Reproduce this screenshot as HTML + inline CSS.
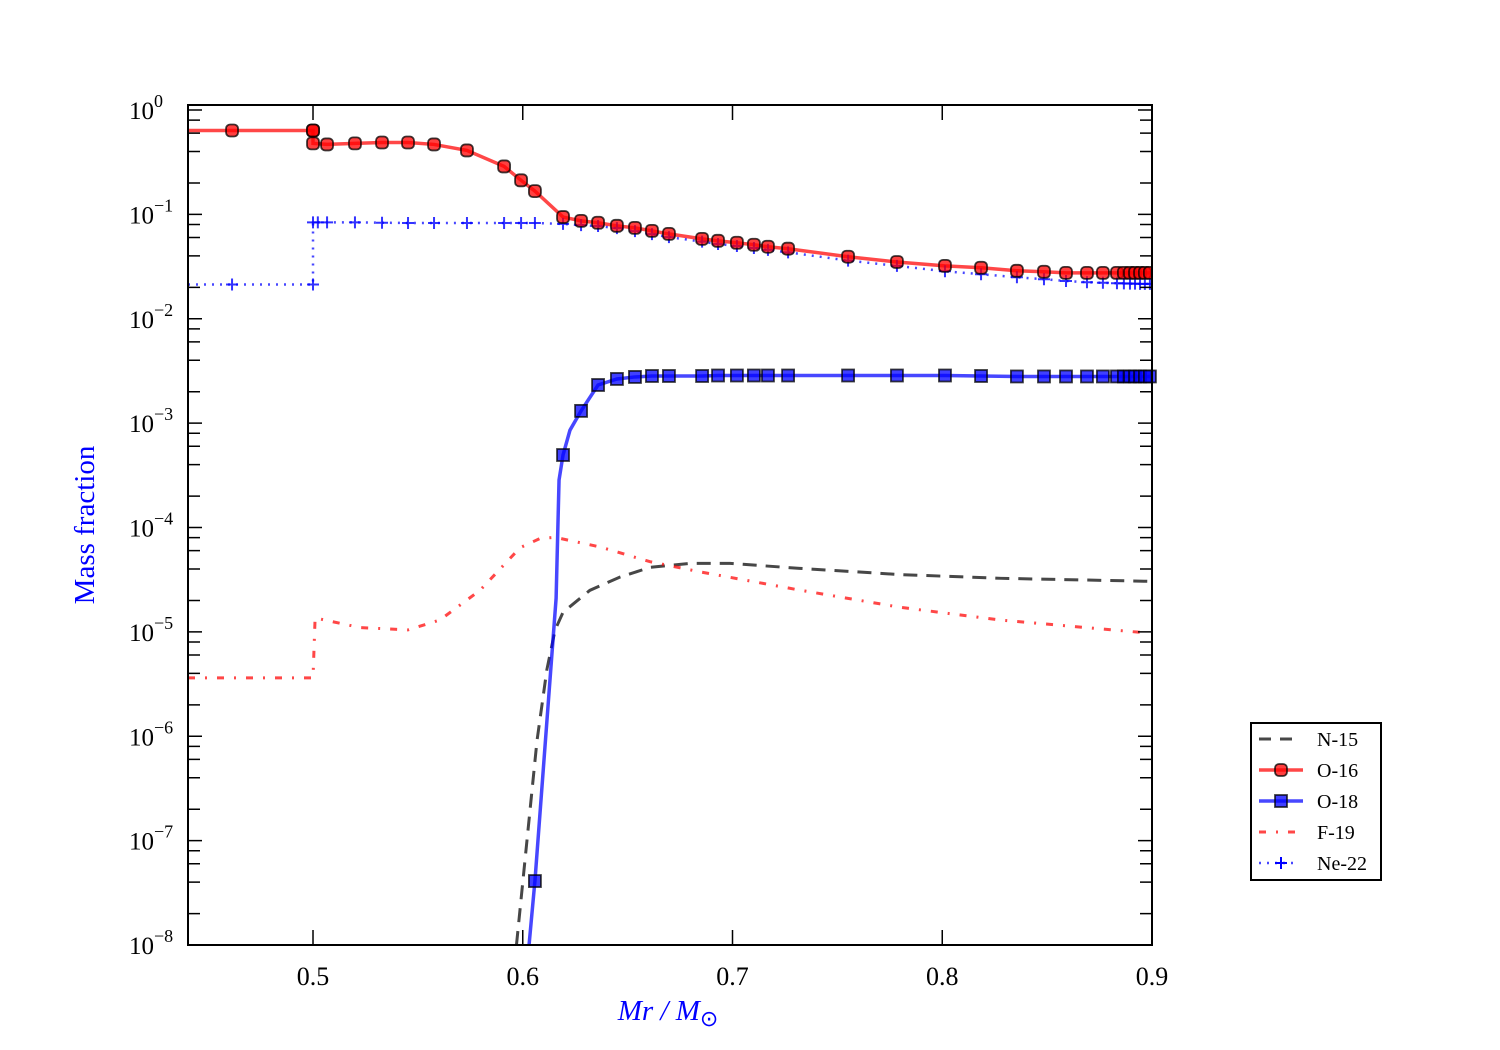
<!DOCTYPE html>
<html><head><meta charset="utf-8"><style>
html,body{margin:0;padding:0;background:#fff;}
svg{display:block;font-family:"Liberation Serif",serif;}
</style></head><body>
<svg id="chart" width="1500" height="1050" viewBox="0 0 1500 1050"></svg>
<script>
// ---- data ----
const o16Mass=[0.4404,0.4614,0.5,0.5,0.5,0.5067,0.5200,0.5329,0.5453,0.5577,0.5734,0.5911,0.5992,0.6058,0.6192,0.6278,0.6359,0.6449,0.6535,0.6616,0.6697,0.6855,0.6931,0.7021,0.7102,0.7169,0.7265,0.7551,0.7784,0.8013,0.8185,0.8356,0.8485,0.8590,0.8690,0.8766,0.8833,0.8866,0.8895,0.8919,0.8943,0.8966,0.899];
const o16Vals=[0.636,0.636,0.636,0.636,0.479,0.468,0.479,0.488,0.488,0.468,0.410,0.288,0.212,0.167,0.0943,0.0867,0.0831,0.0777,0.0743,0.0695,0.0650,0.0583,0.0558,0.0535,0.0512,0.0490,0.0469,0.0393,0.0350,0.0321,0.0308,0.0288,0.0282,0.0275,0.0275,0.0275,0.0275,0.0275,0.0275,0.0275,0.0275,0.0275,0.0275];
const o16Marker=[0,1,1,1,1,1,1,1,1,1,1,1,1,1,1,1,1,1,1,1,1,1,1,1,1,1,1,1,1,1,1,1,1,1,1,1,1,1,1,1,1,1,1];
const ne22Mass=[0.4404,0.4614,0.5,0.5,0.5023,0.5067,0.5200,0.5329,0.5453,0.5577,0.5734,0.5911,0.5992,0.6058,0.6192,0.6278,0.6359,0.6449,0.6535,0.6616,0.6697,0.6855,0.6931,0.7021,0.7102,0.7169,0.7265,0.7551,0.7784,0.8013,0.8185,0.8356,0.8485,0.8590,0.8690,0.8766,0.8833,0.8866,0.8895,0.8919,0.8943,0.8966,0.899];
const ne22Vals=[0.0213,0.0213,0.0213,0.0838,0.0838,0.0838,0.0838,0.0832,0.0827,0.0827,0.0827,0.0827,0.0827,0.0827,0.0810,0.0788,0.0773,0.0739,0.0692,0.0647,0.0606,0.0548,0.0520,0.0498,0.0477,0.0457,0.0433,0.0361,0.0321,0.0285,0.0267,0.0250,0.0239,0.0230,0.0224,0.0221,0.0219,0.0218,0.0217,0.0217,0.0216,0.0216,0.0216];
const ne22Marker=[0,1,1,1,1,1,1,1,1,1,1,1,1,1,1,1,1,1,1,1,1,1,1,1,1,1,1,1,1,1,1,1,1,1,1,1,1,1,1,1,1,1,1];
const o18Mass=[0.6030,0.6058,0.6159,0.6173,0.6192,0.6225,0.6278,0.6359,0.6449,0.6535,0.6616,0.6697,0.6855,0.6931,0.7021,0.7102,0.7169,0.7265,0.7551,0.7784,0.8013,0.8185,0.8356,0.8485,0.8590,0.8690,0.8766,0.8833,0.8866,0.8895,0.8919,0.8943,0.8966,0.899];
const o18Vals=[1e-8,4.1e-8,2.1e-5,2.85e-4,4.95e-4,8.55e-4,1.31e-3,2.32e-3,2.65e-3,2.77e-3,2.83e-3,2.83e-3,2.83e-3,2.86e-3,2.86e-3,2.86e-3,2.86e-3,2.86e-3,2.86e-3,2.86e-3,2.86e-3,2.83e-3,2.8e-3,2.8e-3,2.8e-3,2.8e-3,2.8e-3,2.8e-3,2.8e-3,2.8e-3,2.8e-3,2.8e-3,2.8e-3,2.8e-3];
const o18Marker=[0,1,0,0,1,0,1,1,1,1,1,1,1,1,1,1,1,1,1,1,1,1,1,1,1,1,1,1,1,1,1,1,1,1];
const n15Mass=[0.597,0.602,0.6068,0.6115,0.6154,0.6192,0.632,0.646,0.6607,0.680,0.6988,0.732,0.780,0.828,0.899];
const n15Vals=[1e-8,1.0e-7,9.1e-7,4.35e-6,1.04e-5,1.54e-5,2.5e-5,3.33e-5,4.15e-5,4.53e-5,4.53e-5,4.06e-5,3.54e-5,3.26e-5,3.05e-5];
const f19Mass=[0.4404,0.5,0.501,0.5224,0.5453,0.5605,0.5797,0.5987,0.6082,0.6154,0.637,0.6607,0.6845,0.7322,0.7799,0.8275,0.8943];
const f19Vals=[3.63e-6,3.63e-6,1.36e-5,1.10e-5,1.045e-5,1.30e-5,2.51e-5,6.4e-5,7.85e-5,8.05e-5,6.5e-5,4.7e-5,3.76e-5,2.51e-5,1.72e-5,1.30e-5,9.9e-6];
const xTicks=[0.5,0.6,0.7,0.8,0.9];
const xTickLabels=["0.5","0.6","0.7","0.8","0.9"];
const yExps=[0,-1,-2,-3,-4,-5,-6,-7,-8];

// ---- axes ----
const L=188,R=1152,T=105,B=945,XMIN=0.4404,XMAX=0.9,YMAX=0.048,YMIN=-8;
const sx=m=>L+(m-XMIN)/(XMAX-XMIN)*(R-L);
const sy=v=>T+(YMAX-Math.log10(v))/(YMAX-YMIN)*(B-T);
const NS="http://www.w3.org/2000/svg";
const svg=document.getElementById('chart');
function mk(tag,attrs,parent){const e=document.createElementNS(NS,tag);for(const k in attrs)e.setAttribute(k,attrs[k]);(parent||svg).appendChild(e);return e;}

const clip=mk('clipPath',{id:'pc'});mk('rect',{x:L,y:T,width:R-L,height:B-T},clip);
const plot=mk('g',{'clip-path':'url(#pc)'});



function line(xs,vs,color,dash,width,name){
  const p=mk('polyline',{points:xs.map((m,i)=>sx(m)+','+sy(vs[i])).join(' '),fill:'none',stroke:color,'stroke-width':width,'stroke-opacity':0.72,'stroke-dasharray':dash||'none'},plot);
  
  
}
line(n15Mass,n15Vals,'#000','14,9',3,'n15-line');
line(f19Mass,f19Vals,'#f00','7,10,2,10',3,'f19-line');
line(ne22Mass,ne22Vals,'#00f','2,6',2.5,'ne22-line');
line(o16Mass,o16Vals,'#f00','',3.5,'o16-line');
line(o18Mass,o18Vals,'#00f','',3.5,'o18-line');

ne22Mass.forEach((m,i)=>{if(!ne22Marker[i])return;const x=sx(m),y=sy(ne22Vals[i]);
  const g=mk('path',{d:`M${x-6},${y}H${x+6}M${x},${y-6}V${y+6}`,stroke:'#00f','stroke-width':2,'stroke-opacity':0.8},plot);
  
  });
o16Mass.forEach((m,i)=>{if(!o16Marker[i])return;
  const c=mk('rect',{x:sx(m)-6,y:sy(o16Vals[i])-6,width:12,height:12,rx:4,fill:'#f00','fill-opacity':0.75,stroke:'#000','stroke-opacity':0.75,'stroke-width':1.8},plot);
  
  });
o18Mass.forEach((m,i)=>{if(!o18Marker[i])return;
  const c=mk('rect',{x:sx(m)-6,y:sy(o18Vals[i])-6,width:12,height:12,fill:'#00f','fill-opacity':0.75,stroke:'#000','stroke-opacity':0.75,'stroke-width':1.8},svg);
  
  });

// frame
const fr=mk('rect',{x:L,y:T,width:R-L,height:B-T,fill:'none',stroke:'#000','stroke-width':2});


// x ticks
xTicks.forEach((t,i)=>{const x=sx(t);
  mk('path',{d:`M${x},${B}V${B-15}M${x},${T}V${T+15}`,stroke:'#000','stroke-width':1.5});
  const tx=mk('text',{x:x,y:B+40,'text-anchor':'middle','font-size':26},svg);tx.textContent=xTickLabels[i];
  
  });
// y ticks
yExps.forEach(e=>{const y=sy(Math.pow(10,e));
  mk('path',{d:`M${L},${y}H${L+14}M${R},${y}H${R-14}`,stroke:'#000','stroke-width':1.5});
  if(e>YMIN)for(const k of [2,4,6,8]){const yy=sy(k*Math.pow(10,e-1));
    mk('path',{d:`M${L},${yy}H${L+12}M${R},${yy}H${R-12}`,stroke:'#000','stroke-width':1.5});}
  const tx=mk('text',{x:L-34,y:y+9,'text-anchor':'end','font-size':25},svg);tx.textContent='10';
  
  
  const sp=mk('text',{x:L-34,y:y-3,'text-anchor':'start','font-size':18},svg);sp.textContent=String(e).replace('-','−');
  
  
});
</script>
<div style="position:absolute;left:0;top:0;width:1500px;height:1050px;pointer-events:none">
<svg width="1500" height="1050" style="font-family:'Liberation Serif',serif">
<text x="94" y="525" transform="rotate(-90 94 525)" text-anchor="middle" font-size="29" fill="#0000ff">Mass fraction</text>
<text x="668" y="1020" text-anchor="middle" font-size="29" fill="#0000ff" font-style="italic">Mr / M<tspan font-style="normal" font-size="22" dy="6">⊙</tspan></text>
<g>
<rect x="1251" y="723" width="130" height="157" fill="#fff" stroke="#000" stroke-width="2"/>
<g><path d="M1259,739H1297" stroke="#000" stroke-opacity="0.72" stroke-width="3" stroke-dasharray="12,9"/><text x="1317" y="746" font-size="20">N-15</text></g>
<g><path d="M1259,770H1303" stroke="#f00" stroke-opacity="0.72" stroke-width="3.5"/><rect x="1275" y="764" width="12" height="12" rx="4" fill="#f00" fill-opacity="0.75" stroke="#000" stroke-opacity="0.75" stroke-width="1.8"/><text x="1317" y="777" font-size="20">O-16</text></g>
<g><path d="M1259,801H1303" stroke="#00f" stroke-opacity="0.72" stroke-width="3.5"/><rect x="1275" y="795" width="12" height="12" fill="#00f" fill-opacity="0.75" stroke="#000" stroke-opacity="0.75" stroke-width="1.8"/><text x="1317" y="808" font-size="20">O-18</text></g>
<g><path d="M1259,832H1297" stroke="#f00" stroke-opacity="0.72" stroke-width="3" stroke-dasharray="7,10,2,10"/><text x="1317" y="839" font-size="20">F-19</text></g>
<g><path d="M1259,863H1297" stroke="#00f" stroke-opacity="0.72" stroke-width="2.5" stroke-dasharray="2,6"/><path d="M1275,863H1287M1281,857V869" stroke="#00f" stroke-width="2"/><text x="1317" y="870" font-size="20">Ne-22</text></g>
</g>
</svg></div>
</body></html>
